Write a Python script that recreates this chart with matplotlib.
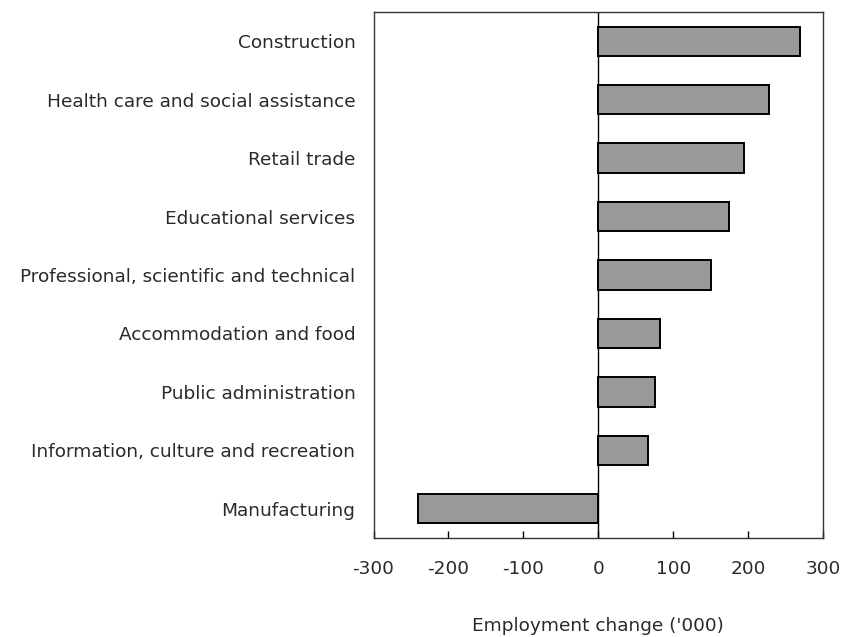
import matplotlib
matplotlib.use("Agg")
import matplotlib.pyplot as plt

categories = [
    "Construction",
    "Health care and social assistance",
    "Retail trade",
    "Educational services",
    "Professional, scientific and technical",
    "Accommodation and food",
    "Public administration",
    "Information, culture and recreation",
    "Manufacturing",
]
values = [269, 228, 194, 174, 151, 83, 76, 67, -241]
xticks = [-300, -200, -100, 0, 100, 200, 300]

plt.rcParams['font.family'] = ['DejaVu Sans']
plt.rcParams['axes.unicode_minus'] = False

fig = plt.figure(figsize=(8.46, 6.37), dpi=100)
ax = fig.add_axes([0.4415, 0.1554, 0.9728 - 0.4415, 0.9812 - 0.1554])

y = list(range(len(categories)))
ax.barh(y, values, height=0.5, color="#999999", edgecolor="black", linewidth=1.4, zorder=3)
ax.axvline(0, color="black", linewidth=1.0, zorder=2)

fs = 13.3
ax.set_xlim(-300, 300)
ax.set_ylim(len(categories) - 0.5, -0.5)
ax.set_yticks(y)
ax.set_yticklabels(categories, fontsize=fs, color="#2a2a2a")
ax.tick_params(axis="y", length=0, pad=13)
ax.set_xticks(xticks)
ax.set_xticklabels([str(v) for v in xticks], fontsize=fs, color="#2a2a2a")
ax.tick_params(axis="x", direction="in", length=5, width=1, pad=16)
ax.set_xlabel("Employment change ('000)", fontsize=fs, labelpad=28, color="#2a2a2a")

for s in ax.spines.values():
    s.set_linewidth(1.0)
    s.set_color("#333333")

fig.savefig("out.png", dpi=100)
